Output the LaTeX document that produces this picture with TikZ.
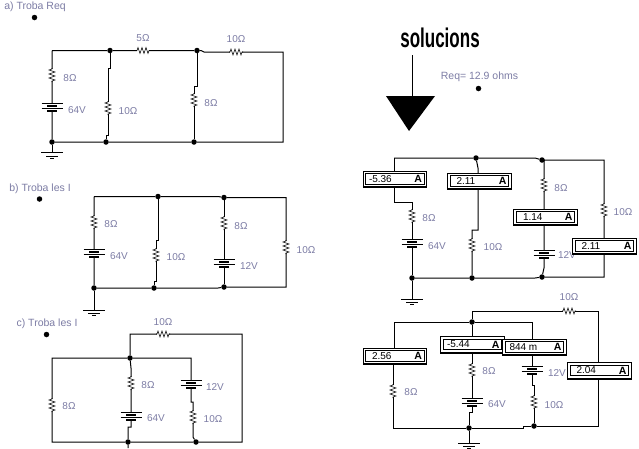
\documentclass[tikz,border=0pt]{standalone}
\usepackage{fontspec}
\setmainfont{Liberation Sans}
\definecolor{labelblue}{RGB}{125,125,165}
\tikzset{
  x=1pt,y=-1pt,
  wire/.style={draw=black,line width=1pt,line join=miter},
  junction/.style={circle,fill=black,inner sep=0pt,minimum size=5.5pt},
  labeltext/.style={text=labelblue,font=\fontsize{10}{12}\selectfont,inner sep=0pt},
  titletext/.style={text=labelblue,font=\fontsize{10.5}{12}\selectfont,inner sep=0pt},
  metervalue/.style={font=\fontsize{10}{12}\selectfont,inner sep=0pt,anchor=west},
  meterunit/.style={font=\fontsize{10.5}{12}\selectfont\bfseries,inner sep=0pt,anchor=east},
  pics/vres/.style={code={\fill[white] (-3.5,-6) rectangle (3.5,6);\draw[line width=0.55pt] (0,-7)--(0,-6)--(-3,-5)--(3,-3)--(-3,-1)--(3,1)--(-3,3)--(3,5)--(0,6)--(0,7);}},
  pics/hres/.style={code={\fill[white] (-6,-3.5) rectangle (6,3.5);\draw[line width=0.55pt] (-7,0)--(-6,0)--(-5,-3)--(-3,3)--(-1,-3)--(1,3)--(3,-3)--(5,3)--(6,0)--(7,0);}},
  pics/batt/.style={code={
    \fill[white] (-11,-3.5) rectangle (11,3.5);
    \draw[line width=1pt] (-10.5,-3.7)--(10.5,-3.7) (-10.5,1.3)--(10.5,1.3);
    \draw[line width=1.9pt] (-5,-1.3)--(5,-1.3) (-5,3.9)--(5,3.9);}},
  pics/gnd/.style={code={
    \draw[line width=.9pt] (-11,0)--(11,0) (-6,3.5)--(6,3.5) (-2,5.5)--(2,5.5);}},
}
% meter: centre x, centre y, name, value, text inset
\newcommand{\meter}[5]{%
  \node[draw=black,fill=white,line width=.9pt,minimum width=63.5pt,minimum height=15.5pt,inner sep=0pt] (#3) at (#1,#2) {};
  \draw[line width=2pt] (#3.south west)--(#3.south east);
  \draw[line width=.7pt] ([xshift=3pt,yshift=-3pt]#3.north west) rectangle ([xshift=-3pt,yshift=3pt]#3.south east);
  \node[metervalue] at ([xshift=#5pt]#3.west) {#4};
  \node[meterunit] at ([xshift=-5pt]#3.east) {A};
}
\begin{document}
\begin{tikzpicture}
\useasboundingbox (0,0) rectangle (639,448);
\fill[white] (0,0) rectangle (639,448);

% ---- a
\node[titletext] (ta) at (35,7) {a) Troba Req};
\node[junction] (da) at (34.5,17.5) {};
\coordinate (a1) at (52,50.5);
\node[junction] (a2) at (110,50.5) {};
\node[junction] (a3) at (197,50.5) {};
\coordinate (a4) at (204,52);
\coordinate (a5) at (283,52);
\coordinate (a6) at (283,142);
\node[junction] (a7) at (194,142) {};
\node[junction] (a8) at (106,142) {};
\node[junction] (a9) at (52,142) {};
\draw[wire] (a1)--(a2)--(a3)--(201,50.5)--(a4)--(a5)--(a6)--(a7)--(a8)--(a9)--(a1);
\draw[wire] (a2)--(110,68)--(108,68)--(108,135)--(106,135)--(a8);
\draw[wire] (a3)--(197,86)--(194,86)--(a7);
\coordinate (ag) at (52,152.5);
\draw[wire] (a9)--(ag);
\pic at (ag) {gnd};
\pic at (52,75) {vres};
\pic at (52,107) {batt};
\pic at (108,108) {vres};
\pic at (194,100) {vres};
\pic at (143,50.5) {hres};
\pic at (236,52) {hres};
\node[labeltext] at (143,38) {5Ω};
\node[labeltext] at (236,39) {10Ω};
\node[labeltext] at (70,78) {8Ω};
\node[labeltext] at (77,110) {64V};
\node[labeltext] at (128,111) {10Ω};
\node[labeltext] at (211,103) {8Ω};

% ---- b
\node[titletext] (tb) at (40,189) {b) Troba les I};
\node[junction] (db) at (39.5,199) {};
\coordinate (b1) at (94,196.5);
\node[junction] (b2) at (158,196.5) {};
\node[junction] (b3) at (224,197.5) {};
\coordinate (b4) at (286,197.5);
\coordinate (b5) at (286,287);
\node[junction] (b6) at (224,287) {};
\node[junction] (b7) at (154,288) {};
\node[junction] (b8) at (94,288) {};
\draw[wire] (b1)--(b2)--(218,196.5)--(b3)--(b4)--(b5)--(b6)--(218,288)--(b7)--(b8)--(b1);
\draw[wire] (b2)--(158,240)--(156,240)--(156,281)--(154,281)--(b7);
\draw[wire] (b3)--(b6);
\coordinate (bg) at (94,310);
\draw[wire] (b8)--(bg);
\pic at (bg) {gnd};
\pic at (94,222) {vres};
\pic at (94,253) {batt};
\pic at (156,255) {vres};
\pic at (224,223) {vres};
\pic at (224,263) {batt};
\pic at (286,247) {vres};
\node[labeltext] at (111,224) {8Ω};
\node[labeltext] at (119,256) {64V};
\node[labeltext] at (176,257) {10Ω};
\node[labeltext] at (241,226) {8Ω};
\node[labeltext] at (249,266) {12V};
\node[labeltext] at (306,250) {10Ω};

% ---- c
\node[titletext] (tc) at (47,324) {c) Troba les I};
\node[junction] (dc) at (46.5,334.5) {};
\node[junction] (c1) at (130,358) {};
\coordinate (c2) at (130,334);
\coordinate (c3) at (242,334);
\coordinate (c4) at (242,442);
\node[junction] (c5) at (196,442) {};
\node[junction] (c6) at (128,442) {};
\coordinate (c7) at (52,442);
\coordinate (c8) at (52,358);
\coordinate (c9) at (191,358);
\draw[wire] (c1)--(c2)--(c3)--(c4)--(c5)--(c6)--(c7)--(c8)--(c1)--(c9)--(191,402)--(193,402)--(193,437)--(c5);
\draw[wire] (c1)--(131,368)--(131,427)--(128,427)--(c6)--(128,448);
\pic at (163,334) {hres};
\pic at (52,405) {vres};
\pic at (131,383) {vres};
\pic at (131,416) {batt};
\pic at (191,384) {batt};
\pic at (193,417) {vres};
\node[labeltext] at (163,322) {10Ω};
\node[labeltext] at (69,406) {8Ω};
\node[labeltext] at (148,385) {8Ω};
\node[labeltext] at (156,418) {64V};
\node[labeltext] at (215,387) {12V};
\node[labeltext] at (213,419) {10Ω};

% ---- heading
\node[inner sep=0pt,xscale=.63,font=\fontsize{27}{28}\selectfont\bfseries] (sol) at (440,38) {solucions};
\coordinate (ar1) at (412,55);
\coordinate (ar2) at (412,97);
\draw[line width=.9pt] (ar1)--(ar2);
\fill (386,96)--(435,96)--(409,131)--cycle;
\node[titletext] (req) at (479.5,77) {Req= 12.9 ohms};
\node[junction] (dr) at (478.5,88.5) {};

% ---- d
\coordinate (d1) at (394,158);
\node[junction] (d2) at (476,158) {};
\node[junction] (d3) at (542,160) {};
\coordinate (d4) at (604,160);
\coordinate (d5) at (604,277);
\node[junction] (d6) at (542,277) {};
\node[junction] (d7) at (472,278) {};
\node[junction] (d8) at (412,278) {};
\draw[wire] (d1)--(d2)--(535,158)--(d3)--(d4)--(d5)--(d6)--(535,278)--(d7)--(d8);
\draw[wire] (d1)--(394,202)--(412,202)--(d8);
\draw[wire] (d2)--(478,168)--(478,230)--(472,230)--(d7);
\draw[wire] (d3)--(544,160)--(544,268)--(d6);
\coordinate (dg) at (412,299);
\draw[wire] (d8)--(dg);
\pic at (dg) {gnd};
\pic at (412,216) {vres};
\pic at (412,243) {batt};
\pic at (472,245) {vres};
\pic at (544,185) {vres};
\pic at (544,254) {batt};
\pic at (604,210) {vres};
\node[labeltext] at (429,218) {8Ω};
\node[labeltext] at (437,246) {64V};
\node[labeltext] at (493,247) {10Ω};
\node[labeltext] at (561,188) {8Ω};
\node[labeltext] at (623,212) {10Ω};
\node[labeltext] at (567,255) {12V};
\meter{395}{179}{m1}{-5.36}{6}
\meter{479.5}{181}{m2}{2.11}{9}
\meter{545.5}{217}{m3}{1.14}{9.5}
\meter{604.5}{246}{m4}{2.11}{9}

% ---- e
\coordinate (e1) at (394,322);
\node[junction] (e2) at (472,322) {};
\coordinate (e3) at (532,322);
\coordinate (e4) at (472,311);
\coordinate (e5) at (598,311);
\coordinate (e6) at (598,426);
\node[junction] (e7) at (534,426) {};
\node[junction] (e8) at (469,428) {};
\coordinate (e9) at (393,428);
\draw[wire] (e1)--(e2)--(e3)--(532,385)--(534,385)--(e7)--(e6)--(e5)--(e4)--(e2)--(472,412)--(469,412)--(e8);
\draw[wire] (e1)--(394,364)--(393,364)--(e9)--(e8)--(523,428)--(523,426)--(e7);
\coordinate (eg) at (469,443);
\draw[wire] (e8)--(eg);
\pic at (eg) {gnd};
\pic at (569,311) {hres};
\pic at (393,391) {vres};
\pic at (472,370) {vres};
\pic at (472,402) {batt};
\pic at (532,370) {batt};
\pic at (534,402) {vres};
\node[labeltext] at (569,297) {10Ω};
\node[labeltext] at (411,392) {8Ω};
\node[labeltext] at (489,371) {8Ω};
\node[labeltext] at (497,404) {64V};
\node[labeltext] at (557,373) {12V};
\node[labeltext] at (554,405) {10Ω};
\meter{395}{356}{m5}{2.56}{9}
\meter{472.5}{344.5}{m6}{-5.44}{6.5}
\meter{534.5}{347}{m7}{844 m}{7}
\meter{599.5}{370.5}{m8}{2.04}{9}
\end{tikzpicture}
\end{document}
